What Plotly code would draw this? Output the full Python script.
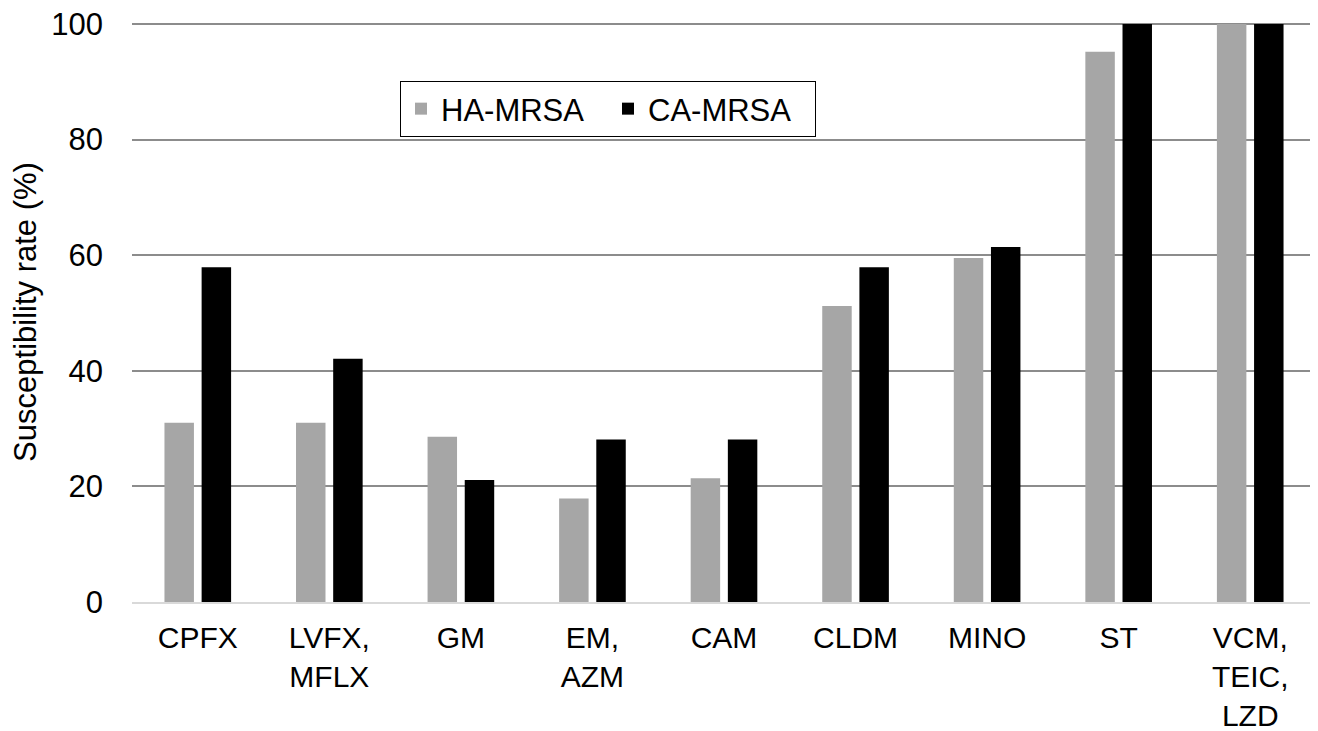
import plotly.graph_objects as go

categories = ["CPFX", "LVFX,<br>MFLX", "GM", "EM,<br>AZM", "CAM", "CLDM", "MINO", "ST", "VCM,<br>TEIC,<br>LZD"]
ha_mrsa = [31.0, 31.0, 28.6, 17.9, 21.4, 51.2, 59.5, 95.2, 100.0]
ca_mrsa = [57.9, 42.1, 21.1, 28.1, 28.1, 57.9, 61.4, 100.0, 100.0]
y_ticks = [0, 20, 40, 60, 80, 100]

FONT = "Liberation Sans, Arial, sans-serif"
FS = 31

fig = go.Figure()
fig.add_trace(go.Bar(x=categories, y=ha_mrsa, name="HA-MRSA",
                     marker=dict(color="#a6a6a6", line=dict(width=0))))
fig.add_trace(go.Bar(x=categories, y=ca_mrsa, name="CA-MRSA",
                     marker=dict(color="#000000", line=dict(width=0))))

# page body adds an 8px offset; figure sized to compensate
fig.update_layout(
    width=1310, height=723,
    margin=dict(l=124, r=2, t=14, b=129),
    paper_bgcolor="white", plot_bgcolor="white",
    font=dict(family=FONT, size=FS, color="#000000"),
    barmode="group", bargap=0.435, bargroupgap=0.207,
    showlegend=True,
    legend=dict(orientation="h", x=(400 - 132) / 1184, y=(602 - 81) / 580,
                xanchor="left", yanchor="top",
                bordercolor="#000000", borderwidth=1, bgcolor="white",
                font=dict(family=FONT, size=FS), itemwidth=30,
                entrywidth=162,
                traceorder="normal"),
)
fig.update_xaxes(
    automargin=False,
    showline=True, linecolor="#d9d9d9", linewidth=2,
    showgrid=False, ticks="", ticklabelstandoff=8,
    ticklabeloverflow="allow",
    tickfont=dict(family=FONT, size=30),
)
fig.update_yaxes(
    automargin=False,
    range=[0, 100.35], tickvals=y_ticks, ticktext=[str(v) for v in y_ticks],
    showgrid=True, gridcolor="#8c8c8c", gridwidth=2,
    zeroline=False, showline=False, ticks="",
    ticklabelstandoff=28, ticklabeloverflow="allow",
    tickfont=dict(family=FONT, size=FS),
    title=dict(text="Susceptibility rate (%)", font=dict(family=FONT, size=FS), standoff=20),
)

fig.write_html("out.html")
